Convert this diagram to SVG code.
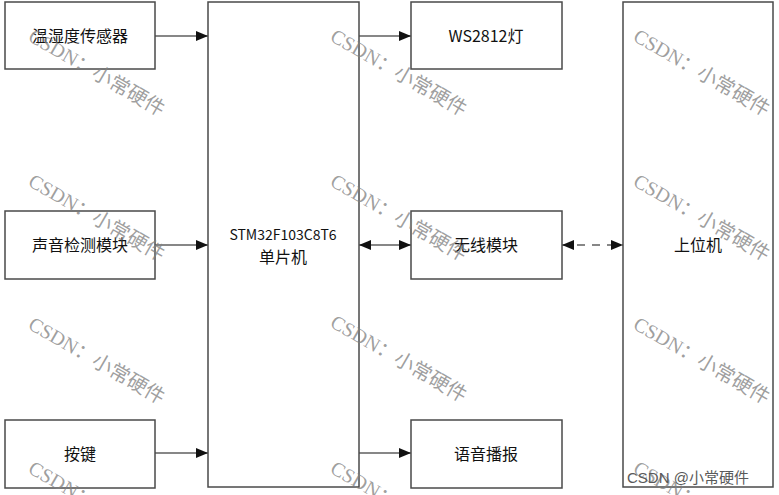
<svg xmlns="http://www.w3.org/2000/svg" width="779" height="495" viewBox="0 0 779 495">
<style>
.box{fill:#fff;stroke:#4a4a4a;stroke-width:1.5}
.lbl{font-family:"Microsoft YaHei","Noto Sans CJK SC","Noto Sans",sans-serif;font-size:16px;fill:#111;text-anchor:middle}
.mcu{font-size:14px}
.ln{stroke:#111;stroke-width:1.2;fill:none}
.wm{font-family:"Liberation Serif","Noto Sans CJK SC",serif;font-size:20px;fill:#808080;fill-opacity:0.75}
.sig{font-family:"Liberation Sans","Noto Sans CJK SC",sans-serif;font-size:15px;fill:#5a5a5a}
</style>
<defs>
<marker id="ah" viewBox="0 0 12 10" refX="12" refY="5" markerWidth="12" markerHeight="10" markerUnits="userSpaceOnUse" orient="auto-start-reverse">
<path d="M0,0 L12,5 L0,10 Z" fill="#111"/>
</marker>
</defs>
<rect width="779" height="495" fill="#fff"/>
<g id="connectors">
<line class="ln" x1="155" y1="36" x2="208" y2="36" marker-end="url(#ah)"/>
<line class="ln" x1="155" y1="245" x2="208" y2="245" marker-end="url(#ah)"/>
<line class="ln" x1="155" y1="453" x2="208" y2="453" marker-end="url(#ah)"/>
<line class="ln" x1="359" y1="36" x2="411" y2="36" marker-end="url(#ah)"/>
<line class="ln" x1="359" y1="245" x2="411" y2="245" marker-start="url(#ah)" marker-end="url(#ah)"/>
<line class="ln" x1="562" y1="245" x2="623" y2="245" stroke-dasharray="8,7" stroke-width="1.6" marker-start="url(#ah)" marker-end="url(#ah)"/>
<line class="ln" x1="359" y1="453" x2="411" y2="453" marker-end="url(#ah)"/>
</g>
<g id="temp_sensor"><rect class="box" x="5" y="2" width="150" height="67"/><text class="lbl" x="80" y="42">温湿度传感器</text></g>
<g id="sound_module"><rect class="box" x="5" y="211" width="150" height="68"/><text class="lbl" x="80" y="251">声音检测模块</text></g>
<g id="key"><rect class="box" x="5" y="420" width="150" height="68"/><text class="lbl" x="80" y="460">按键</text></g>
<g id="mcu"><rect class="box" x="208" y="2" width="151" height="485"/><text class="lbl mcu" x="283" y="240">STM32F103C8T6</text><text class="lbl" x="283" y="263">单片机</text></g>
<g id="ws2812"><rect class="box" x="411" y="2" width="151" height="67"/><text class="lbl" x="486" y="42">WS2812灯</text></g>
<g id="wireless"><rect class="box" x="411" y="211" width="151" height="68"/><text class="lbl" x="486" y="251">无线模块</text></g>
<g id="voice"><rect class="box" x="411" y="420" width="151" height="68"/><text class="lbl" x="486" y="460">语音播报</text></g>
<g id="host"><rect class="box" x="623" y="2" width="150" height="485"/><text class="lbl" x="698" y="251">上位机</text></g>
<g id="watermarks">
<text class="wm" transform="translate(27,40) rotate(30)">CSDN：小常硬件</text>
<text class="wm" transform="translate(329,40) rotate(30)">CSDN：小常硬件</text>
<text class="wm" transform="translate(632,40) rotate(30)">CSDN：小常硬件</text>
<text class="wm" transform="translate(27,185) rotate(30)">CSDN：小常硬件</text>
<text class="wm" transform="translate(329,185) rotate(30)">CSDN：小常硬件</text>
<text class="wm" transform="translate(632,185) rotate(30)">CSDN：小常硬件</text>
<text class="wm" transform="translate(27,328) rotate(30)">CSDN：小常硬件</text>
<text class="wm" transform="translate(329,326) rotate(30)">CSDN：小常硬件</text>
<text class="wm" transform="translate(632,328) rotate(30)">CSDN：小常硬件</text>
<text class="wm" transform="translate(27,472) rotate(30)">CSDN：小常硬件</text>
<text class="wm" transform="translate(329,472) rotate(30)">CSDN：小常硬件</text>
<text class="wm" transform="translate(632,472) rotate(30)">CSDN：小常硬件</text>
</g>
<text class="sig" x="627" y="483">CSDN @小常硬件</text>
</svg>
